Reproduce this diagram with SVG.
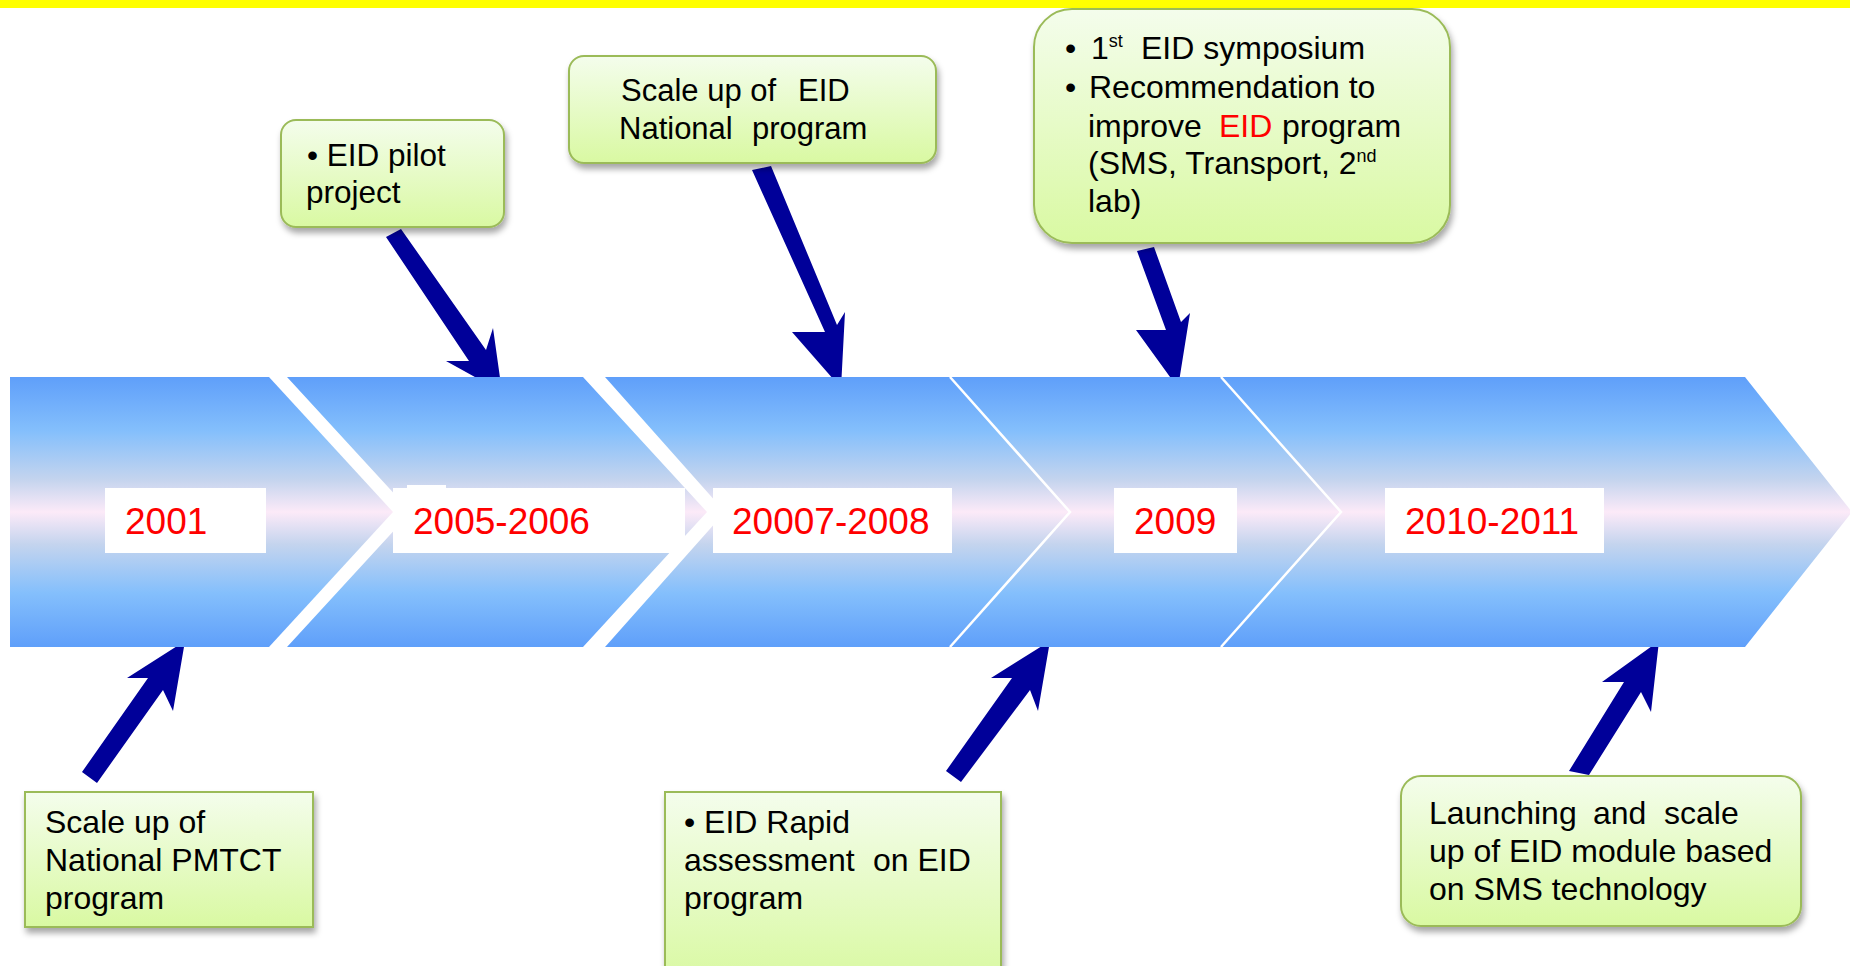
<svg xmlns="http://www.w3.org/2000/svg" width="1850" height="966" viewBox="0 0 1850 966">
<defs>
<style>
.t{font-family:"Liberation Sans",Arial,sans-serif;font-size:32px;fill:#000000;white-space:pre}
.a{font-size:31.5px}
.b{font-size:31px}
.sup{font-size:18px}
.yr{font-family:"Liberation Sans",Arial,sans-serif;font-size:37px;fill:#FF0000}
.red{fill:#FF0000}
.box{fill:url(#gBox);stroke:#9BBB59;stroke-width:2;filter:url(#sh)}
.lbl{fill:#FFFFFF}
.arr{fill:#000099}
.seg{fill:url(#gBand)}
.sep{fill:none;stroke:#FFFFFF;stroke-width:2.5}
</style>
<linearGradient id="gBand" gradientUnits="userSpaceOnUse" x1="0" y1="377" x2="0" y2="647">
<stop offset="0" stop-color="#5F9FFA"/>
<stop offset="0.2" stop-color="#84BFFC"/>
<stop offset="0.38" stop-color="#C4D4EE"/>
<stop offset="0.5" stop-color="#FCEAF8"/>
<stop offset="0.62" stop-color="#C4D4EE"/>
<stop offset="0.8" stop-color="#84BFFC"/>
<stop offset="1" stop-color="#5F9FFA"/>
</linearGradient>
<linearGradient id="gBox" x1="0" y1="0" x2="0" y2="1">
<stop offset="0" stop-color="#F4FDEC"/>
<stop offset="1" stop-color="#D9F9A2"/>
</linearGradient>
<filter id="sh" x="-10%" y="-10%" width="125%" height="135%">
<feDropShadow dx="2" dy="5" stdDeviation="3" flood-color="#000000" flood-opacity="0.35"/>
</filter>
</defs>
<rect x="0" y="0" width="1850" height="966" fill="#FFFFFF"/>
<rect id="topbar" x="0" y="0" width="1850" height="8" fill="#FFFF00"/>

<g id="connectors">
<polygon class="arr" points="386,237 469,361 446,361 502,392 493,328 486,350 401,229"/>
<polygon class="arr" points="752,170 825,332 792,332 841,388 845,312 837,325 771,166"/>
<polygon class="arr" points="1137,251 1166,330 1136,330 1178,388 1190,313 1181,322 1154,247"/>
<polygon class="arr" points="82,772 148,678 127,678 185,641 173,711 163,690 97,783"/>
<polygon class="arr" points="946,771 1012,678 991,678 1050,641 1038,711 1030,690 961,782"/>
<polygon class="arr" points="1569,771 1624,682 1602,682 1659,641 1651,712 1641,692 1589,775"/>
</g>

<g id="seg2001">
<polygon class="seg" points="10,377 269,377 393,512 269,647 10,647"/>
<rect class="lbl" x="105" y="488" width="161" height="65"/>
<text class="yr" x="125" y="534">2001</text>
</g>
<g id="seg2005">
<polygon class="seg" points="287,377 583,377 707,512 583,647 287,647 411,512"/>
<rect class="lbl" x="393" y="488" width="292" height="65"/>
<rect class="lbl" x="407" y="485" width="39" height="4"/>
<text class="yr" x="413" y="534">2005-2006</text>
</g>
<g id="seg2007">
<polygon class="seg" points="605,377 950,377 1070,512 950,647 605,647 725,512"/>
<rect class="lbl" x="713" y="488" width="239" height="65"/>
<text class="yr" x="732" y="534">20007-2008</text>
</g>
<g id="seg2009">
<polygon class="seg" points="950,377 1221,377 1341,512 1221,647 950,647 1070,512"/>
<polyline class="sep" points="950,377 1070,512 950,647"/>
<rect class="lbl" x="1114" y="488" width="123" height="65"/>
<text class="yr" x="1134" y="534">2009</text>
</g>
<g id="seg2010">
<polygon class="seg" points="1221,377 1745,377 1852,512 1745,647 1221,647 1341,512"/>
<polyline class="sep" points="1221,377 1341,512 1221,647"/>
<rect class="lbl" x="1385" y="488" width="219" height="65"/>
<text class="yr" x="1405" y="534">2010-2011</text>
</g>

<g id="boxPilot">
<rect class="box" x="281" y="120" width="223" height="107" rx="15"/>
<text class="t a" x="307" y="166">• EID pilot</text>
<text class="t a" x="306" y="203">project</text>
</g>
<g id="boxScaleEID">
<rect class="box" x="569" y="56" width="367" height="107" rx="15"/>
<text class="t b" y="101"><tspan x="621">Scale up of</tspan><tspan x="798">EID</tspan></text>
<text class="t b" y="139"><tspan x="619">National</tspan><tspan x="752">program</tspan></text>
</g>
<g id="boxSymposium">
<rect class="box" x="1034" y="9" width="416" height="234" rx="38"/>
<text class="t" y="59"><tspan x="1065">•</tspan><tspan x="1091">1</tspan><tspan class="sup" dy="-12">st</tspan><tspan x="1141" dy="12">EID symposium</tspan></text>
<text class="t" y="98"><tspan x="1065">•</tspan><tspan x="1089">Recommendation to</tspan></text>
<text class="t" y="137"><tspan x="1088">improve</tspan><tspan x="1219" class="red">EID</tspan><tspan x="1282">program</tspan></text>
<text class="t" y="174"><tspan x="1088">(SMS, Transport, 2</tspan><tspan class="sup" dy="-12">nd</tspan></text>
<text class="t" x="1088" y="212">lab)</text>
</g>
<g id="boxPMTCT">
<rect class="box" x="25" y="792" width="288" height="135"/>
<text class="t" x="45" y="833">Scale up of</text>
<text class="t" x="45" y="871">National PMTCT</text>
<text class="t" x="45" y="909">program</text>
</g>
<g id="boxRapid">
<rect class="box" x="665" y="792" width="336" height="190"/>
<text class="t" x="684" y="833">• EID Rapid</text>
<text class="t" y="871"><tspan x="684">assessment</tspan><tspan x="873">on EID</tspan></text>
<text class="t" x="684" y="909">program</text>
</g>
<g id="boxSMS">
<rect class="box" x="1401" y="776" width="400" height="150" rx="20"/>
<text class="t" y="824"><tspan x="1429">Launching</tspan><tspan x="1593">and</tspan><tspan x="1664">scale</tspan></text>
<text class="t" x="1429" y="862">up of EID module based</text>
<text class="t" x="1429" y="900">on SMS technology</text>
</g>
</svg>
